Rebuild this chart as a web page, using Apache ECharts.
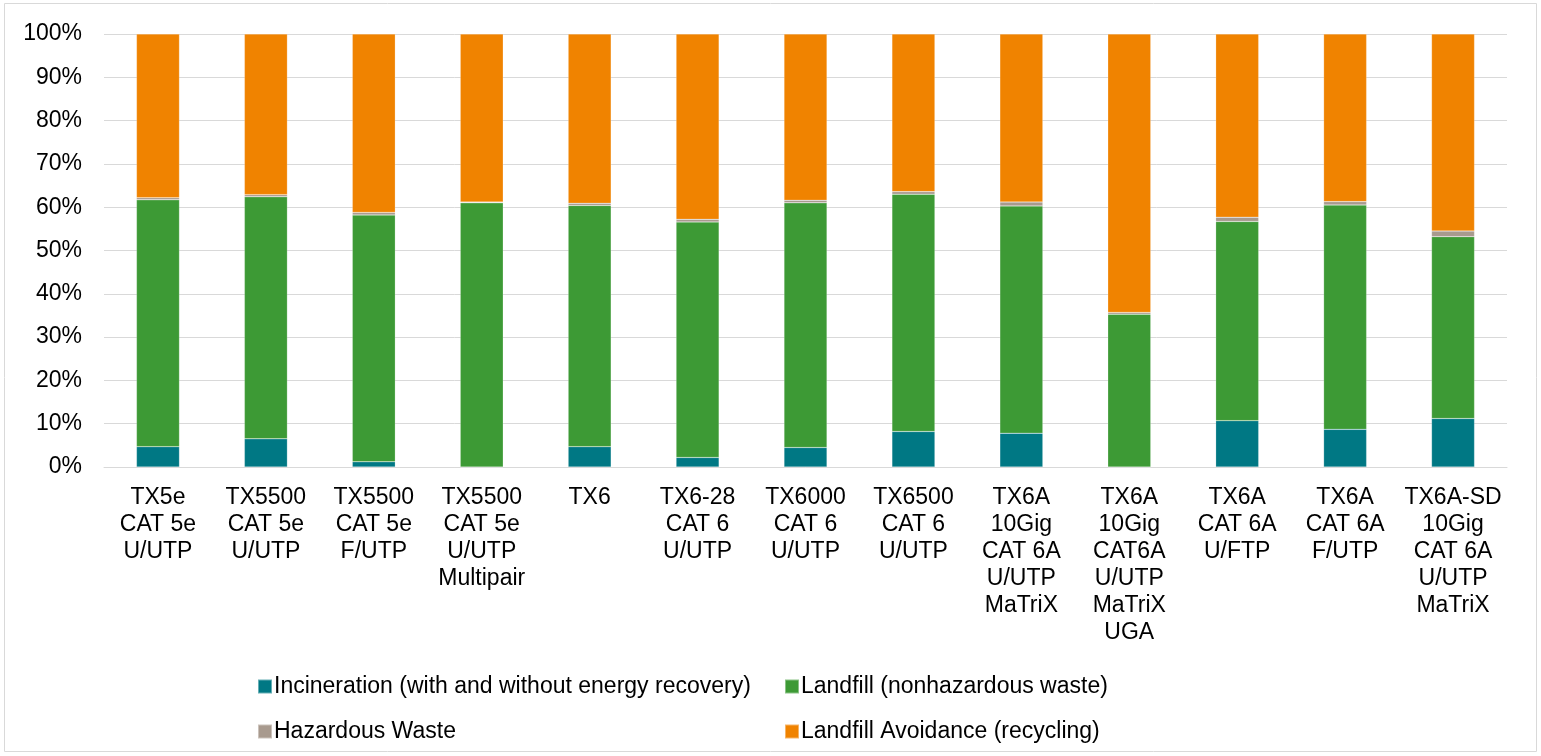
<!DOCTYPE html>
<html>
<head>
<meta charset="utf-8">
<script src="https://cdn.jsdelivr.net/npm/echarts@6/dist/echarts.min.js"></script>
<style>
  html, body { margin: 0; padding: 0; background: #fff; }
  #main { width: 1541px; height: 756px; }
</style>
</head>
<body>
<div id="main"></div>
<script>
// categories (multi-line labels as on the x axis)
var cables = [
  'TX5e\nCAT 5e\nU/UTP',
  'TX5500\nCAT 5e\nU/UTP',
  'TX5500\nCAT 5e\nF/UTP',
  'TX5500\nCAT 5e\nU/UTP\nMultipair',
  'TX6',
  'TX6-28\nCAT 6\nU/UTP',
  'TX6000\nCAT 6\nU/UTP',
  'TX6500\nCAT 6\nU/UTP',
  'TX6A\n10Gig\nCAT 6A\nU/UTP\nMaTriX',
  'TX6A\n10Gig\nCAT6A\nU/UTP\nMaTriX\nUGA',
  'TX6A\nCAT 6A\nU/FTP',
  'TX6A\nCAT 6A\nF/UTP',
  'TX6A-SD\n10Gig\nCAT 6A\nU/UTP\nMaTriX'
];

// shares in percent
var incineration = [4.7, 6.5, 1.2, 0.0, 4.7, 2.2, 4.5, 8.2, 7.8, 0.0, 10.7, 8.7, 11.2];
var landfill     = [57.0, 55.9, 57.0, 61.0, 55.7, 54.4, 56.5, 54.8, 52.5, 35.3, 46.0, 51.8, 42.0];
var hazardous    = [0.5, 0.5, 0.6, 0.2, 0.5, 0.6, 0.6, 0.6, 0.9, 0.4, 1.0, 0.8, 1.3];
var recycling    = [37.8, 37.1, 41.2, 38.8, 39.1, 42.8, 38.4, 36.4, 38.8, 64.3, 42.3, 38.7, 45.5];

var seriesNames = [
  'Incineration (with and without energy recovery)',
  'Landfill (nonhazardous waste)',
  'Hazardous Waste',
  'Landfill Avoidance (recycling)'
];
var colors = ['#007884', '#3d9a35', '#a89a8e', '#f08300'];
var yTicks = [0, 10, 20, 30, 40, 50, 60, 70, 80, 90, 100];

var FONT = 'Liberation Sans, Arial';

var chart = echarts.init(document.getElementById('main'));

// one legend per entry so the 2x2 layout lines up like the original
function legendAt(name, left, top) {
  return {
    data: [name],
    left: left,
    top: top,
    itemWidth: 14,
    itemHeight: 14,
    itemGap: 0,
    icon: 'rect',
    textStyle: { fontFamily: FONT, fontSize: 23, color: '#000', padding: [0, 0, 0, -3] },
    selectedMode: false
  };
}

var values = [incineration, landfill, hazardous, recycling];

chart.setOption({
  animation: false,
  color: colors,
  graphic: [{
    type: 'rect',
    shape: { x: 4.5, y: 3.5, width: 1532, height: 748 },
    style: { fill: 'none', stroke: '#d9d9d9', lineWidth: 1 }
  }],
  legend: [
    legendAt(seriesNames[0], 252, 670),
    legendAt(seriesNames[1], 779, 670),
    legendAt(seriesNames[2], 252, 715),
    legendAt(seriesNames[3], 779, 715)
  ],
  grid: { left: 104, right: 34, top: 34, bottom: 289 },
  xAxis: {
    type: 'category',
    data: cables,
    axisLine: { show: true, lineStyle: { color: '#d9d9d9', width: 1 } },
    axisTick: { show: false },
    axisLabel: {
      interval: 0,
      margin: 17,
      fontFamily: FONT,
      fontSize: 23,
      lineHeight: 27,
      color: '#000'
    }
  },
  yAxis: {
    type: 'value',
    min: yTicks[0],
    max: yTicks[yTicks.length - 1],
    interval: 10,
    axisLine: { show: false },
    axisTick: { show: false },
    splitLine: { lineStyle: { color: '#d9d9d9', width: 1 } },
    axisLabel: {
      margin: 22,
      fontFamily: FONT,
      fontSize: 23,
      color: '#000',
      formatter: '{value}%'
    }
  },
  series: seriesNames.map(function (name, i) {
    return {
      name: name,
      type: 'bar',
      stack: 'total',
      barWidth: 43,
      data: values[i],
      itemStyle: { color: colors[i], borderColor: 'rgba(255,255,255,0.4)', borderWidth: 0.5 }
    };
  })
});
</script>
</body>
</html>
